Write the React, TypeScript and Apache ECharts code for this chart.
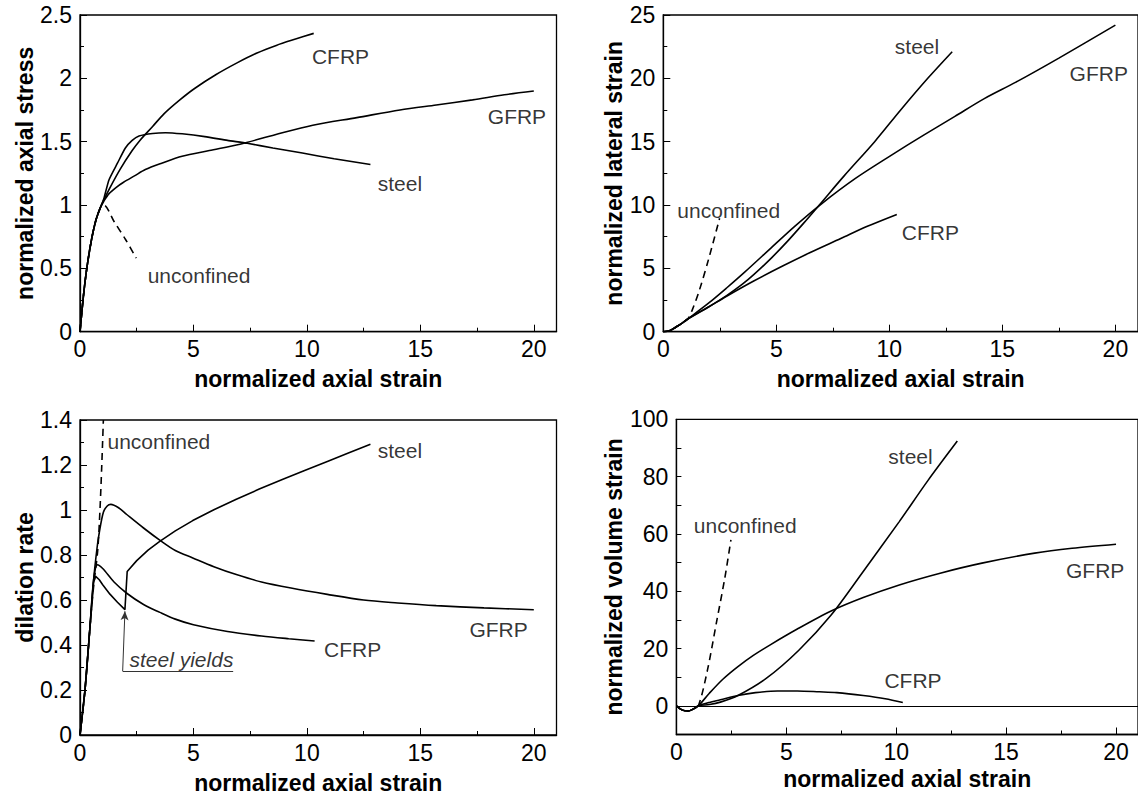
import React, { useEffect, useRef } from "react";
import * as echarts from "echarts";

type Pt = [number, number];
type Lbl = [string, number, number];

// ---------- Panel 1: normalized axial stress ----------
const P1_CFRP: Pt[] = [[0,0],[0.15,0.28],[0.3,0.5],[0.5,0.72],[0.7,0.88],[0.9,0.98],[1.05,1.04],[1.3,1.13],[1.76,1.28],[2.3,1.43],[2.64,1.51],[3.2,1.62],[3.7,1.72],[4.4,1.83],[5.05,1.92],[6,2.03],[6.9,2.12],[7.8,2.2],[8.65,2.26],[9.5,2.31],[10.3,2.355]];
const P1_GFRP: Pt[] = [[0,0],[0.15,0.28],[0.3,0.5],[0.5,0.72],[0.7,0.88],[0.9,0.98],[1.05,1.03],[1.28,1.09],[1.6,1.14],[1.92,1.18],[2.4,1.23],[2.88,1.28],[3.6,1.33],[4.5,1.385],[5.7,1.43],[7.05,1.48],[8.6,1.555],[10.26,1.63],[12.2,1.69],[14.1,1.75],[15.7,1.79],[17.3,1.83],[18.7,1.87],[20,1.9]];
const P1_STEEL: Pt[] = [[0,0],[0.15,0.28],[0.3,0.5],[0.5,0.72],[0.7,0.88],[0.9,0.98],[1.05,1.05],[1.28,1.2],[1.65,1.33],[2.0,1.45],[2.3,1.51],[2.6,1.545],[3.2,1.565],[3.77,1.571],[4.5,1.562],[5.5,1.54],[6.5,1.51],[7.37,1.487],[8.5,1.45],[9.8,1.41],[11.2,1.365],[12.8,1.32]];
const P1_UNCONF: Pt[] = [[0,0],[0.15,0.28],[0.3,0.5],[0.5,0.72],[0.7,0.88],[0.9,0.98],[1.05,1.0],[1.5,0.87],[2.0,0.73],[2.48,0.58]];
const P1_LABELS: Lbl[] = [["CFRP",10.2,2.17],["GFRP",17.95,1.70],["steel",13.1,1.17],["unconfined",2.96,0.447]];

// ---------- Panel 2: normalized lateral strain ----------
const P2_STEEL: Pt[] = [[0,0],[0.3,0.1],[0.58,0.39],[0.85,0.7],[1.08,1.0],[1.5,1.45],[2,1.95],[2.8,2.85],[3.5,3.75],[4,4.5],[4.8,5.85],[5.5,7.15],[6.2,8.55],[6.9,10.0],[8,12.3],[9.35,15],[10.5,17.5],[11.7,20],[12.78,22.1]];
const P2_GFRP: Pt[] = [[0,0],[0.3,0.1],[0.58,0.39],[0.85,0.7],[1.08,1.0],[2,2.25],[2.8,3.45],[3.6,4.7],[4.7,6.5],[5.8,8.3],[7,10.1],[8.5,12.1],[10.06,13.9],[11.5,15.5],[12.9,17.0],[14.2,18.4],[15.6,19.7],[17.5,21.6],[20,24.2]];
const P2_CFRP: Pt[] = [[0,0],[0.3,0.1],[0.58,0.39],[0.85,0.7],[1.08,1.0],[2,1.95],[2.8,2.8],[4,4.0],[5.3,5.2],[6.5,6.25],[7.85,7.35],[9,8.3],[10.33,9.26]];
const P2_UNCONF: Pt[] = [[0,0],[0.3,0.1],[0.58,0.39],[0.85,0.7],[1.08,1.0],[1.3,1.8],[1.6,3.3],[2.0,5.7],[2.49,8.95]];
const P2_LABELS: Lbl[] = [["steel",10.22,22.5],["GFRP",17.95,20.4],["unconfined",0.6,9.6],["CFRP",10.53,7.8]];

// ---------- Panel 3: dilation rate ----------
const P3_STEEL: Pt[] = [[0,0],[0.22,0.2],[0.44,0.48],[0.6,0.68],[0.69,0.705],[0.85,0.69],[1.0,0.668],[1.32,0.626],[1.65,0.59],[1.98,0.557],[2.08,0.727],[2.5,0.775],[3.0,0.822],[3.53,0.862],[4.2,0.907],[4.97,0.953],[5.9,1.001],[6.89,1.048],[7.9,1.093],[8.97,1.138],[9.9,1.176],[10.9,1.216],[11.8,1.252],[12.8,1.292]];
const P3_CFRP: Pt[] = [[0,0],[0.22,0.2],[0.44,0.48],[0.6,0.69],[0.77,0.757],[1.0,0.74],[1.5,0.68],[2.06,0.63],[2.8,0.58],[3.52,0.545],[4.2,0.515],[5,0.49],[6.5,0.46],[8,0.44],[9.2,0.428],[10.34,0.418]];
const P3_GFRP: Pt[] = [[0,0],[0.22,0.2],[0.44,0.48],[0.6,0.69],[0.75,0.83],[0.85,0.9],[1.03,0.99],[1.2,1.018],[1.36,1.025],[1.7,1.01],[2.06,0.98],[2.8,0.92],[3.53,0.865],[4.2,0.82],[4.97,0.787],[5.9,0.748],[6.89,0.713],[8,0.68],[9.3,0.653],[10.9,0.625],[12.5,0.6],[14,0.587],[15.7,0.575],[17.8,0.565],[20,0.557]];
const P3_UNCONF: Pt[] = [[0,0],[0.22,0.2],[0.44,0.48],[0.6,0.66],[0.78,0.82],[0.88,1.0],[0.96,1.2],[1.03,1.4]];
const P3_LABELS: Lbl[] = [["unconfined",1.19,1.304],["steel",13.1,1.263],["CFRP",10.73,0.38],["GFRP",17.14,0.469]];
const P3_NOTE: Lbl = ["steel yields",2.16,0.336];
const P3_ARROW: Pt[] = [[1.88,0.284],[1.98,0.55]];
const P3_UNDERLINE: Pt[] = [[1.88,0.284],[6.75,0.284]];

// ---------- Panel 4: normalized volume strain ----------
const P4_STEEL: Pt[] = [[0,0],[0.25,-1.4],[0.53,-1.8],[0.75,-1.2],[1.0,0],[1.5,0.45],[2,1.3],[2.8,3.6],[4.1,9.65],[5.57,19.4],[7.04,31.7],[8.5,46.9],[10.14,64.3],[11.44,78.6],[12.78,92.4]];
const P4_GFRP: Pt[] = [[0,0],[0.25,-1.4],[0.53,-1.8],[0.75,-1.2],[1.0,0],[1.5,4.4],[2.1,9.2],[2.8,13.7],[3.5,17.6],[4.27,21.3],[5.5,26.8],[7.04,33.1],[8.5,37.8],[10.14,42.2],[12,46.3],[13.9,49.8],[16.3,53.3],[18,55],[20,56.4]];
const P4_CFRP: Pt[] = [[0,0],[0.25,-1.4],[0.53,-1.8],[0.75,-1.2],[1.0,0],[1.5,1.2],[2,2.1],[2.8,3.6],[3.6,4.6],[4.6,5.2],[5.5,5.2],[6.5,4.9],[7.3,4.6],[8.5,3.6],[9.5,2.5],[10.3,1.2]];
const P4_UNCONF: Pt[] = [[0,0],[0.25,-1.4],[0.53,-1.8],[0.75,-1.2],[1.0,0],[1.4,12],[1.83,29.4],[2.2,44.5],[2.48,57.9]];
const P4_LABELS: Lbl[] = [["steel",9.62,87.0],["unconfined",0.77,62.9],["GFRP",17.7,47.2],["CFRP",9.44,8.9]];

// ---------- axes ----------
const X_TITLE = "normalized axial strain";
const Y_TITLES = ["normalized axial stress", "normalized lateral strain", "dilation rate", "normalized volume strain"];
const Y_MIN = [0, 0, 0, -10];
const Y_MAX = [2.5, 25, 1.4, 100];
const Y_INTERVAL = [0.5, 5, 0.2, 10];
const X_MAX = 21;

const FONT = "'Liberation Sans', Arial, Helvetica, sans-serif";

export default function App() {
  const ref = useRef<HTMLDivElement>(null);
  useEffect(() => {
    document.body.style.margin = "0";
    if (!ref.current) return;
    const chart = echarts.init(ref.current, null, { renderer: "svg" });

    const grids = [
      { left: 80, top: 15, width: 476.5, height: 316.7 },
      { left: 663.3, top: 15, width: 484, height: 316.7 },
      { left: 80, top: 420, width: 476.5, height: 315.7 },
      { left: 676.4, top: 419.3, width: 468.3, height: 315.2 },
    ].map((g) => ({ ...g, show: true, borderColor: "#000", borderWidth: 1.3, backgroundColor: "transparent", containLabel: false }));

    const yGaps = [41.5, 37.5, 43, 50.5];
    const xGaps = [36, 36, 36, 33];

    const xAxes: any[] = [];
    const yAxes: any[] = [];
    for (let i = 0; i < 4; i++) {
      xAxes.push({
        gridIndex: i, type: "value", position: "bottom", min: 0, max: X_MAX, interval: 5,
        axisLine: { show: true, onZero: false, lineStyle: { color: "#000", width: 1.3 } },
        axisTick: { show: true, inside: true, length: 7, lineStyle: { color: "#000", width: 1 } },
        axisLabel: { show: true, showMaxLabel: false, color: "#000", fontSize: 23, fontFamily: FONT, margin: 6,
          formatter: (v: number) => (v % 5 === 0 ? String(v) : "") },
        splitLine: { show: false },
        name: X_TITLE, nameLocation: "middle", nameGap: xGaps[i],
        nameTextStyle: { color: "#000", fontSize: 23, fontWeight: "bold", fontFamily: FONT },
      });
      xAxes.push({
        gridIndex: i, type: "value", position: "bottom", offset: 0, min: 0, max: X_MAX, interval: 2.5,
        axisLine: { show: false, onZero: false },
        axisTick: { show: true, inside: true, length: 4, lineStyle: { color: "#000", width: 1 } },
        axisLabel: { show: false },
        splitLine: { show: false },
      });
      yAxes.push({
        gridIndex: i, type: "value", min: Y_MIN[i], max: Y_MAX[i], interval: Y_INTERVAL[i],
        axisLine: { show: true, onZero: false, lineStyle: { color: "#000", width: 1.3 } },
        axisTick: { show: true, inside: true, length: i === 3 ? 5 : 7, lineStyle: { color: "#000", width: 1 } },
        minorTick: { show: i !== 3, splitNumber: 2, length: 4, lineStyle: { color: "#000", width: 1 } },
        axisLabel: { color: "#000", fontSize: 23, fontFamily: FONT, margin: 8,
          formatter: i === 3 ? (v: number) => (v >= 0 && Math.round(v) % 20 === 0 ? String(Math.round(v)) : "") : undefined },
        splitLine: { show: false }, minorSplitLine: { show: false },
        name: Y_TITLES[i], nameLocation: "middle", nameGap: yGaps[i],
        nameTextStyle: { color: "#000", fontSize: 23, fontWeight: "bold", fontFamily: FONT },
      });
    }

    const line = (data: Pt[], i: number, dashed = false, smooth: number | boolean = 0.3) => ({
      type: "line", xAxisIndex: i * 2, yAxisIndex: i, data, symbol: "none", showSymbol: false,
      smooth, silent: true, z: 3,
      lineStyle: { color: "#000", width: 1.6, type: dashed ? [7, 5] : "solid" },
    });

    const labels = (lbls: Lbl[], i: number, extra: any = {}) => ({
      type: "scatter", xAxisIndex: i * 2, yAxisIndex: i, symbolSize: 1, silent: true, z: 4,
      itemStyle: { color: "rgba(0,0,0,0)" },
      data: lbls.map(([name, x, y]) => ({ name, value: [x, y] })),
      label: { show: true, position: "right", distance: 0, formatter: "{b}", color: "#000", fontSize: 21, fontFamily: FONT },
      ...extra,
    });

    const series: any[] = [
      line(P1_CFRP, 0), line(P1_GFRP, 0), line(P1_STEEL, 0, false, 0.2), line(P1_UNCONF, 0, true),
      labels(P1_LABELS, 0),
      line(P2_STEEL, 1), line(P2_GFRP, 1), line(P2_CFRP, 1), line(P2_UNCONF, 1, true),
      labels(P2_LABELS, 1),
      line(P3_STEEL, 2, false, false), line(P3_CFRP, 2), line(P3_GFRP, 2), line(P3_UNCONF, 2, true),
      labels(P3_LABELS, 2),
      {
        type: "scatter", xAxisIndex: 4, yAxisIndex: 2, symbolSize: 1, silent: true, z: 4,
        itemStyle: { color: "rgba(0,0,0,0)" },
        data: [{ name: P3_NOTE[0], value: [P3_NOTE[1], P3_NOTE[2]] }],
        label: { show: true, position: "right", distance: 0, formatter: "{b}", color: "#000", fontSize: 21, fontStyle: "italic", fontFamily: FONT },
        markLine: {
          silent: true, animation: false, symbol: ["none", "arrow"], symbolSize: [6, 9],
          label: { show: false }, lineStyle: { color: "#333", width: 1, type: "solid" },
          data: [
            [{ coord: P3_ARROW[0] }, { coord: P3_ARROW[1] }],
            [{ coord: P3_UNDERLINE[0], symbol: "none" }, { coord: P3_UNDERLINE[1], symbol: "none" }],
          ],
        },
      },
      line(P4_STEEL, 3), line(P4_GFRP, 3), line(P4_CFRP, 3), line(P4_UNCONF, 3, true),
      labels(P4_LABELS, 3, {
        markLine: {
          silent: true, animation: false, symbol: ["none", "none"], label: { show: false },
          lineStyle: { color: "#000", width: 1.2, type: "solid" },
          data: [{ yAxis: 0 }],
        },
      }),
    ];

    chart.setOption({
      animation: false,
      backgroundColor: "#fff",
      textStyle: { fontFamily: FONT },
      grid: grids,
      xAxis: xAxes,
      yAxis: yAxes,
      series,
    });
    return () => chart.dispose();
  }, []);

  return <div ref={ref} style={{ position: "absolute", left: 0, top: 0, width: 1138, height: 795, overflow: "hidden" }} />;
}
